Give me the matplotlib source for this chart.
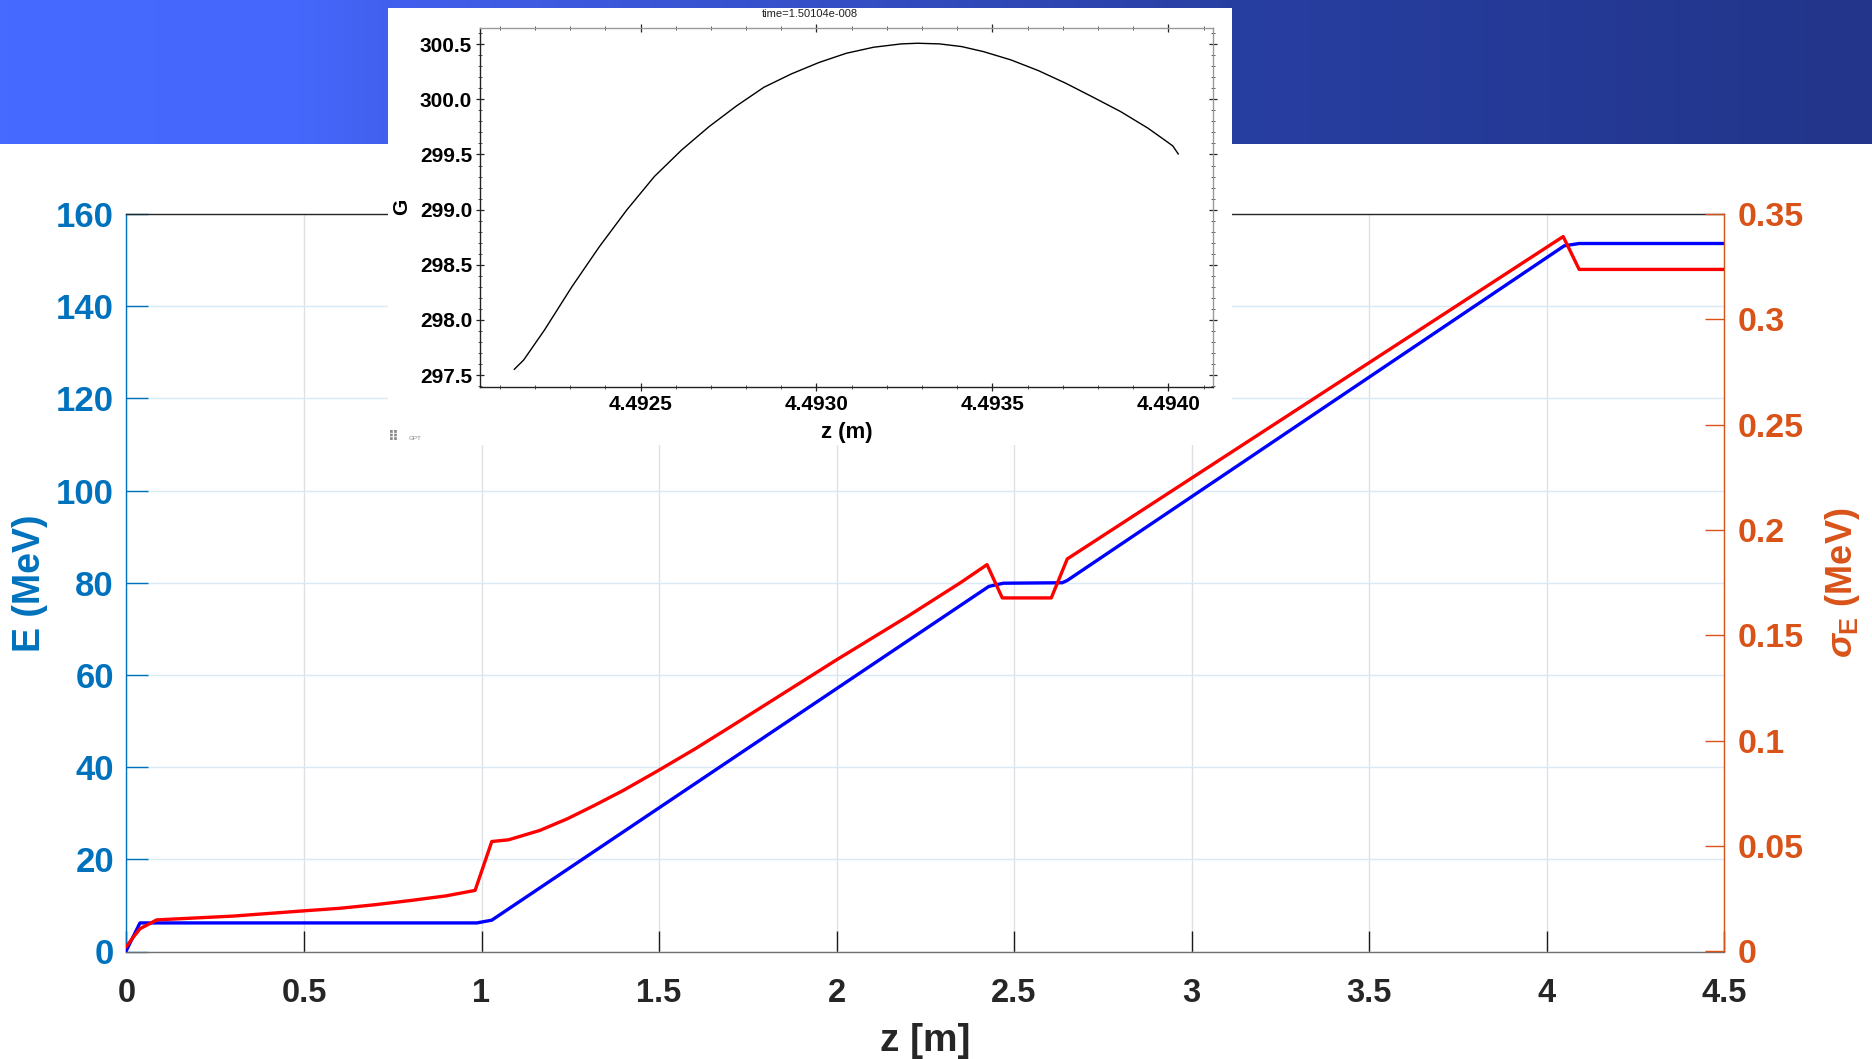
import numpy as np
import matplotlib
matplotlib.use("Agg")
import matplotlib.pyplot as plt
from matplotlib.patches import Rectangle
from matplotlib.ticker import MultipleLocator, FormatStrFormatter
from matplotlib.colors import LinearSegmentedColormap

plt.rcParams['font.family'] = ['Liberation Sans', 'DejaVu Sans']
plt.rcParams['font.weight'] = 'bold'
plt.rcParams['mathtext.fontset'] = 'custom'
plt.rcParams['mathtext.rm'] = 'Liberation Sans:bold'
plt.rcParams['mathtext.it'] = 'Liberation Sans:italic'
plt.rcParams['mathtext.bf'] = 'Liberation Sans:bold'

# ---------------- data ----------------
# Mean energy E (MeV) vs z (m)
z_E = [0.0, 0.038, 0.987, 1.029, 2.429, 2.470, 2.636, 2.650, 4.050, 4.092, 4.5]
E_MeV = [0.3, 6.2, 6.2, 6.8, 79.2, 79.9, 80.0, 80.5, 153.1, 153.6, 153.6]

# Energy spread sigma_E (MeV) vs z (m)
z_sig = [0.0, 0.02, 0.038, 0.085, 0.3, 0.5, 0.6, 0.7, 0.8, 0.9, 0.982,
         1.029, 1.076, 1.165, 1.242, 1.32, 1.4, 1.494, 1.6, 1.7, 2.0, 2.2,
         2.349, 2.424, 2.467, 2.605, 2.650, 4.047, 4.092, 4.5]
sig_MeV = [0.0024, 0.007, 0.0108, 0.0150, 0.0168, 0.0193, 0.0205, 0.0222, 0.0242,
           0.0264, 0.0290, 0.0522, 0.0530, 0.0575, 0.0630, 0.0695, 0.0765, 0.0855,
           0.0960, 0.1065, 0.1384, 0.1590, 0.1750, 0.1836, 0.1678, 0.1678, 0.1863,
           0.3393, 0.3237, 0.3237]

# Inset: gamma G vs z (m) across the bunch
z_in = [4.4921414, 4.4921679, 4.4922271, 4.4923051, 4.4923831, 4.4924610,
        4.4925390, 4.4926169, 4.4926949, 4.4927729, 4.4928508, 4.4929288,
        4.4930068, 4.4930847, 4.4931627, 4.4932407, 4.4932874, 4.4933498,
        4.4934122, 4.4934746, 4.4935525, 4.4936305, 4.4937085, 4.4937864,
        4.4938644, 4.4939424, 4.4939891, 4.4940125, 4.4940281]
G_in = [297.552, 297.636, 297.908, 298.301, 298.664, 298.997, 299.299, 299.541,
        299.753, 299.941, 300.110, 300.231, 300.334, 300.418, 300.473, 300.503,
        300.509, 300.503, 300.479, 300.433, 300.358, 300.261, 300.146, 300.019,
        299.889, 299.738, 299.632, 299.578, 299.505]

x_ticks = [0, 0.5, 1, 1.5, 2, 2.5, 3, 3.5, 4, 4.5]
x_ticklabels = ['0', '0.5', '1', '1.5', '2', '2.5', '3', '3.5', '4', '4.5']
yl_ticks = [0, 20, 40, 60, 80, 100, 120, 140, 160]
yr_ticks = [0, 0.05, 0.1, 0.15, 0.2, 0.25, 0.3, 0.35]
yr_ticklabels = ['0', '0.05', '0.1', '0.15', '0.2', '0.25', '0.3', '0.35']

W, H = 1872, 1059
fig = plt.figure(figsize=(W / 100, H / 100), dpi=100)
fig.patch.set_facecolor('white')

# ---------------- banner ----------------
bx = np.array([0, 300, 388, 1232, 1872]) / W
bc = ['#4669ff', '#4567fb', '#4260ee', '#283fa2', '#22358a']
cmap = LinearSegmentedColormap.from_list('banner', list(zip(bx, bc)))
ban = fig.add_axes([0, 1 - 144 / H, 1, 144 / H], zorder=-1)
ban.imshow(np.linspace(0, 1, 512)[None, :], aspect='auto', cmap=cmap,
           extent=[0, 1, 0, 1])
ban.set_axis_off()

# ---------------- main axes ----------------
L, R, T, B = 126.5, 1724, 214, 951.5
ax = fig.add_axes([L / W, 1 - B / H, (R - L) / W, (B - T) / H], zorder=0)
ax2 = ax.twinx()
ax2.set_zorder(1)
ax2.patch.set_visible(False)

blue_c = '#0072BD'
orange_c = '#D95319'
dark = '#262626'

ax.plot(z_E, E_MeV, color='#0000FF', lw=2.4, solid_joinstyle='round', zorder=3)
ax2.plot(z_sig, sig_MeV, color='#FF0000', lw=2.4, solid_joinstyle='round', zorder=3)

ax.set_xlim(0, 4.5)
ax.set_ylim(0, 160)
ax2.set_ylim(0, 0.35)

ax.set_xticks(x_ticks)
ax.set_xticklabels(x_ticklabels)
ax.set_yticks(yl_ticks)
ax2.set_yticks(yr_ticks)
ax2.set_yticklabels(yr_ticklabels)

ax.xaxis.grid(True, color='#dde1e6', lw=1)
ax.yaxis.grid(True, color='#d9e9f5', lw=1)
ax.set_axisbelow(True)

ax.tick_params(axis='x', direction='in', length=15, width=1, colors='#1a1a1a',
               labelcolor=dark, labelsize=23.5, pad=19)
ax.tick_params(axis='y', direction='in', length=16, width=1, colors=blue_c,
               labelsize=25, pad=9)
ax2.tick_params(axis='y', direction='in', length=14, width=1, colors=orange_c,
                labelsize=24.5, pad=10)
for lab in ax.get_xticklabels() + ax.get_yticklabels() + ax2.get_yticklabels():
    lab.set_fontweight('bold')

ax.spines['left'].set_color(blue_c)
ax.spines['bottom'].set_color('#707070')
ax.spines['top'].set_color(dark)
ax.spines['right'].set_visible(False)
ax2.spines['right'].set_color(orange_c)
for s in ['left', 'top', 'bottom']:
    ax2.spines[s].set_visible(False)
for a in (ax, ax2):
    for s in a.spines.values():
        s.set_linewidth(1)

ax.set_xlabel('z [m]', fontsize=28, fontweight='bold', color=dark, labelpad=10)
ax.set_ylabel('E (MeV)', fontsize=27, fontweight='bold', color=blue_c)
ax.yaxis.set_label_coords(-0.049, 0.5)
ax2.set_ylabel(r'$\sigma_{\mathbf{E}}$ (MeV)', fontsize=26, fontweight='bold',
               color=orange_c)
ax2.yaxis.set_label_coords(1.062, 0.5)

# ---------------- inset white panel ----------------
box = Rectangle((388 / W, 1 - 445 / H), 844 / W, 437 / H, transform=fig.transFigure,
                facecolor='white', edgecolor='none', zorder=2)
fig.add_artist(box)

iL, iR, iT, iB = 480.4, 1212.7, 27.7, 386.7
axi = fig.add_axes([iL / W, 1 - iB / H, (iR - iL) / W, (iB - iT) / H], zorder=3)
axi.plot(z_in, G_in, color='black', lw=1.0)
axi.set_xlim(4.492045, 4.494126)
axi.set_ylim(297.394, 300.65)
axi.xaxis.set_major_locator(MultipleLocator(0.0005))
axi.xaxis.set_minor_locator(MultipleLocator(0.0001))
axi.yaxis.set_major_locator(MultipleLocator(0.5))
axi.yaxis.set_minor_locator(MultipleLocator(0.1))
axi.xaxis.set_major_formatter(FormatStrFormatter('%.4f'))
axi.yaxis.set_major_formatter(FormatStrFormatter('%.1f'))
axi.tick_params(which='major', direction='inout', length=6, width=0.9, colors='#222222',
                top=True, right=True, labelsize=15, pad=3)
axi.tick_params(which='minor', direction='inout', length=3.5, width=0.7, colors='#555555',
                top=True, right=True)
for lab in axi.get_xticklabels() + axi.get_yticklabels():
    lab.set_fontweight('bold')
    lab.set_color('black')
axi.spines['left'].set_color('#222222')
axi.spines['bottom'].set_color('#222222')
axi.spines['top'].set_color('#9a9a9a')
axi.spines['right'].set_color('#9a9a9a')
for s in axi.spines.values():
    s.set_linewidth(1)
axi.set_xlabel('z (m)', fontsize=16, fontweight='bold', labelpad=6)
axi.set_ylabel('G', fontsize=15, fontweight='bold')
axi.yaxis.set_label_coords(-0.094, 0.5)

fig.text(810 / W, 1 - 14 / H, 'time=1.50104e-008', fontsize=8, fontweight='normal',
         ha='center', va='center', color='#222222', zorder=4)

# GPT logo
fig.text(388 / W, 1 - 437 / H, '\u283f', fontsize=10, color='#8a8a8a',
         family='DejaVu Sans', ha='left', va='center', zorder=4)
fig.text(409 / W, 1 - 439 / H, 'GPT', fontsize=4.5, color='#8a8a8a',
         fontweight='normal', ha='left', va='center', zorder=4)

fig.savefig('out.png', dpi=100)
